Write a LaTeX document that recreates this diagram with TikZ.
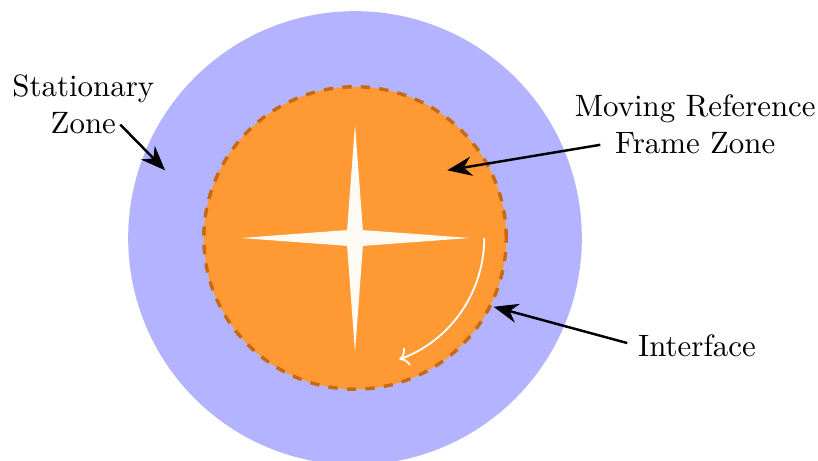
\documentclass[tikz,border=0pt]{standalone}
\usepackage{tikz}
\usetikzlibrary{arrows.meta,positioning}
\definecolor{zoneblue}{HTML}{B3B3FF}
\definecolor{zoneorange}{HTML}{FF9933}
\definecolor{zoneedge}{HTML}{C8690F}
\definecolor{starwhite}{HTML}{FDF9F3}
\tikzset{
  zone/.style={circle,inner sep=0pt,draw=none},
  interface/.style={draw=zoneedge,line width=1.1pt,dashed},
  label/.style={align=center,font=\normalsize},
  pointer/.style={-{Stealth[length=2.8mm,width=2.2mm]},thick,draw=black},
  spin/.style={->,semithick,draw=white}
}
\begin{document}
\begin{tikzpicture}
\useasboundingbox (-4.038,-2.536) rectangle (5.266,2.707);
\node[zone,fill=zoneblue,minimum size=5.16cm] (stationary) at (0,0) {};
\node[zone,fill=zoneorange,minimum size=3.44cm] (mrf) at (0,0) {};
\draw[interface] (0,0) circle[radius=1.72];
% rotor
\fill[starwhite] (0,1.29) -- (0.09,0.09) -- (1.31,0) -- (0.09,-0.09)
  -- (0,-1.30) -- (-0.09,-0.09) -- (-1.30,0) -- (-0.09,0.09) -- cycle;
\draw[spin] (0:1.47) arc[start angle=0,end angle=-70,radius=1.47];
% labels
\node[label] (statlabel) at (-3.09,1.52) {Stationary\\Zone};
\node[label] (mrflabel) at (3.87,1.29) {Moving Reference\\Frame Zone};
\node[label] (intlabel) at (3.89,-1.225) {Interface};
\coordinate (stat-tip) at (-2.16,0.77);
\coordinate (mrf-tip) at (1.05,0.77);
\coordinate (int-tip) at (-26.4:1.76);
\draw[pointer] ([shift={(0.42,-0.23)}]statlabel.center) -- (stat-tip);
\draw[pointer] ([shift={(-1.08,-0.23)}]mrflabel.center) -- (mrf-tip);
\draw[pointer] ([yshift=0.03cm]intlabel.west) -- (int-tip);
\end{tikzpicture}
\end{document}
